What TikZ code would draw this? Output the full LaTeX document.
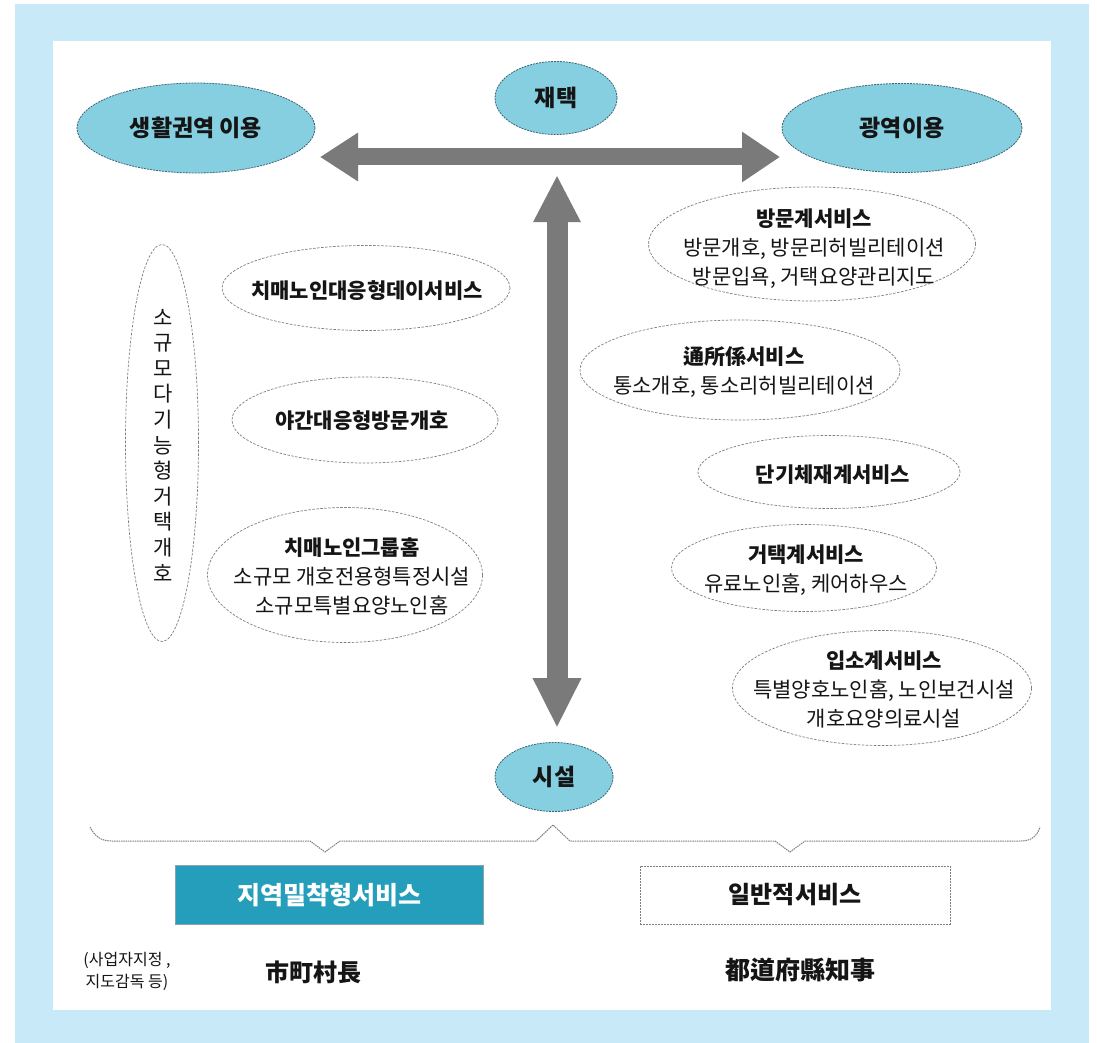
\documentclass[tikz,border=0pt]{standalone}
\usepackage{fontspec}
\setmainfont{Noto Sans CJK KR}
\usetikzlibrary{shapes.geometric,arrows.meta}
\definecolor{bgblue}{HTML}{C8EAF8}
\definecolor{tealfill}{HTML}{86CFE0}
\definecolor{tealline}{HTML}{3C6473}
\definecolor{boxteal}{HTML}{259EBB}
\definecolor{arrowgray}{HTML}{7A7A7A}
\definecolor{dashgray}{HTML}{7E7E7E}
\definecolor{ink}{HTML}{151515}
\begin{document}
\begin{tikzpicture}[x=1pt,y=-1pt,
  tealell/.style={ellipse, draw=tealline, fill=tealfill, dash pattern=on 2pt off 1pt, line width=0.8pt, inner sep=0pt, text=ink, font=\fontsize{23}{27}\selectfont\bfseries},
  whiteell/.style={ellipse, draw=dashgray, dash pattern=on 2.5pt off 1.5pt, line width=0.7pt, fill=white, inner sep=0pt},
  lbl/.style={align=center, text=ink, inner sep=0pt, font=\fontsize{21}{29}\selectfont},
  bigarrow/.style={draw=arrowgray, line cap=butt},
  bracepath/.style={draw=dashgray, dash pattern=on 1.5pt off 0.8pt, line width=1pt},
  boxlbl/.style={minimum width=#1, minimum height=59pt, inner sep=0pt, font=\fontsize{25}{29}\selectfont\bfseries}
]
\useasboundingbox (0,0) rectangle (1097,1043);
\fill[white] (0,0) rectangle (1097,1043);
\fill[bgblue] (15,4) rectangle (1089,1043);
\fill[white] (53,41) rectangle (1051,1010);

% top / bottom teal ellipses
\node[tealell, minimum width=238pt, minimum height=90pt] (saeng) at (196,128) {생활권역 이용};
\node[tealell, minimum width=122pt, minimum height=73pt] (jaetaek) at (556,98) {재택};
\node[tealell, minimum width=240pt, minimum height=89pt] (gwang) at (902,128) {광역이용};
\node[tealell, minimum width=118pt, minimum height=69pt] (siseol) at (554,777) {시설};

% right-hand service ellipses
\node[whiteell, minimum width=327pt, minimum height=114pt] (bangmun) at (812,244) {};
\node[lbl] (bangmunT) at (814,249) {{\bfseries 방문계서비스}\\방문개호, 방문리허빌리테이션\\방문입욕, 거택요양관리지도};
\node[whiteell, minimum width=320pt, minimum height=100pt] (tongso) at (740,370) {};
\node[lbl] (tongsoT) at (744,372) {{\bfseries 通所係서비스}\\통소개호, 통소리허빌리테이션};
\node[whiteell, minimum width=262pt, minimum height=73pt] (dangi) at (829,472) {};
\node[lbl] (dangiT) at (833,475) {\bfseries 단기체재계서비스};
\node[whiteell, minimum width=265pt, minimum height=87pt] (geotaek) at (804,568) {};
\node[lbl] (geotaekT) at (806,570) {{\bfseries 거택계서비스}\\유료노인홈, 케어하우스};
\node[whiteell, minimum width=299pt, minimum height=115pt] (ipso) at (882,688) {};
\node[lbl] (ipsoT) at (884,689) {{\bfseries 입소계서비스}\\특별양호노인홈, 노인보건시설\\개호요양의료시설};

% left-hand service ellipses
\node[whiteell, minimum width=288pt, minimum height=85pt] (day) at (366,288) {};
\node[lbl] (dayT) at (367,291) {\bfseries 치매노인대응형데이서비스};
\node[whiteell, minimum width=266pt, minimum height=86pt] (yagan) at (365,420) {};
\node[lbl] (yaganT) at (362,421) {\bfseries 야간대응형방문개호};
\node[whiteell, minimum width=275pt, minimum height=135pt] (group) at (345,575) {};
\node[lbl] (groupT) at (352,576) {{\bfseries 치매노인그룹홈}\\소규모 개호전용형특정시설\\소규모특별요양노인홈};
\node[whiteell, minimum width=73pt, minimum height=397pt] (vert) at (162,443) {};
\node[lbl, font=\fontsize{21}{25.6}\selectfont] (vertT) at (163,445) {소\\규\\모\\다\\기\\능\\형\\거\\택\\개\\호};

% big double arrows
\coordinate (hl) at (320,157);
\coordinate (hr) at (780,157);
\draw[bigarrow, line width=17pt, {Triangle[length=38pt,width=46pt]}-{Triangle[length=38pt,width=48pt]}] (hl) -- (hr);
\coordinate (vt) at (557,175);
\coordinate (vb) at (557,728);
\draw[bigarrow, line width=21pt, {Triangle[length=47pt,width=44pt]}-{Triangle[length=50pt,width=45pt]}] (vt) -- (vb);

% brace
\draw[bracepath] (90,827) .. controls (95,836) and (100,841) .. (112,841) -- (310,841) -- (325,852) -- (340,841) -- (536,841) -- (553,825) -- (570,841) -- (775,841) -- (790,852) -- (805,841) -- (1020,841) .. controls (1032,841) and (1037,836) .. (1040,827);

% bottom boxes
\node[boxlbl=308pt, draw=tealline!60, fill=boxteal, text=white] (jiyeok) at (329,895) {지역밀착형서비스};
\node[boxlbl=310pt, draw=dashgray, dash pattern=on 2pt off 1pt, line width=0.8pt, fill=white, text=ink, minimum height=58pt, font=\fontsize{24}{28}\selectfont\bfseries] (ilban) at (795,895) {일반적서비스};

\node[lbl, font=\fontsize{16}{22}\selectfont] (jijeong) at (127,971) {(사업자지정 ,\\ 지도감독 등)};
\node[lbl, font=\fontsize{24}{28}\selectfont\bfseries] (sichon) at (313,972) {市町村長};
\node[lbl, font=\fontsize{25}{28}\selectfont\bfseries] (dodo) at (800,970) {都道府縣知事};
\end{tikzpicture}
\end{document}
